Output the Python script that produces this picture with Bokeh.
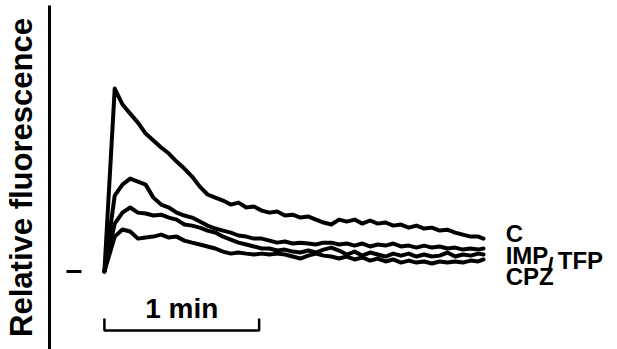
from bokeh.plotting import figure
from bokeh.models import FixedTicker, Range1d
from bokeh.core.properties import value
from bokeh.embed import file_html
from bokeh.resources import INLINE

# time (s) after stimulus
t = [0, 4, 7, 10, 13, 16, 19, 22, 25, 28, 31, 34, 37, 40, 43, 46, 49, 52, 55, 58,
     61, 64, 67, 70, 73, 76, 79, 82, 85, 88, 91, 94, 97, 100, 103, 106, 109, 112, 115, 118,
     121, 124, 127, 130, 133, 136, 139, 142, 145, 147]

# relative fluorescence (arbitrary units, C peak = 100)
c_vals = [0, 100, 91.3, 86.3, 81.4, 75.4, 71.6, 67.8, 64.5, 60.1, 56.3, 51.9, 46.4, 42.1, 40.4,
          38.8, 36.6, 37.7, 35.0, 35.5, 33.3, 32.2, 32.8, 30.6, 31.1, 29.5, 30.1, 28.4, 26.8, 25.7,
          28.4, 27.3, 28.4, 26.2, 27.9, 26.2, 26.8, 25.1, 25.7, 24.0, 25.1, 23.5, 24.0, 22.4, 22.9,
          21.3, 20.2, 19.1, 19.1, 18.0]
imp_vals = [0, 41.5, 47.5, 50.8, 49.2, 47.5, 40.4, 36.6, 35.0, 32.2, 30.6, 29.5, 27.3, 25.1, 23.5,
            22.4, 21.3, 19.7, 19.1, 18.0, 18.0, 16.9, 15.8, 16.4, 15.3, 15.8, 15.3, 14.8, 15.8, 15.8,
            14.8, 15.3, 14.2, 15.3, 13.7, 14.8, 14.2, 15.3, 13.7, 14.2, 13.1, 14.2, 13.1, 13.7, 12.6,
            13.1, 12.0, 12.6, 12.0, 12.6]
tfp_vals = [0, 26.2, 32.2, 35.0, 32.2, 31.7, 30.6, 31.1, 29.5, 28.4, 25.7, 25.1, 24.0, 22.4, 21.3,
            19.1, 17.5, 15.8, 14.8, 13.7, 12.6, 12.6, 11.5, 12.0, 10.9, 10.4, 11.5, 10.4, 12.0, 13.1,
            11.5, 9.3, 10.9, 8.7, 10.4, 9.3, 8.2, 9.8, 8.7, 9.8, 8.2, 9.3, 8.2, 8.7, 10.4,
            8.2, 9.3, 8.7, 9.8, 9.3]
cpz_vals = [0, 19.1, 23.0, 21.9, 18.0, 18.6, 19.1, 20.2, 18.6, 19.1, 16.9, 15.8, 14.8, 13.7, 12.6,
            10.9, 9.8, 10.4, 9.8, 9.3, 9.8, 9.3, 9.8, 9.3, 8.2, 7.1, 8.7, 9.8, 8.7, 8.2,
            7.1, 8.2, 6.6, 7.7, 6.0, 7.1, 5.5, 6.6, 4.9, 6.0, 4.9, 5.5, 4.4, 5.5, 4.9,
            5.5, 4.9, 6.0, 5.5, 6.6]

series = [c_vals, imp_vals, tfp_vals, cpz_vals]

# labels at the right end of the traces: (text, t, value)
label_text = ["C", "IMP", "/", "TFP", "CPZ"]
label_t = [155.6, 155.6, 171.5, 175.8, 155.6]
label_v = [20.8, 8.7, 2.8, 6.0, -2.5]

# baseline marker and time scale bar
baseline_t = [-14.7, -8.9]
baseline_v = [0, 0]
scale_seconds = 60
scale_label = "1 min"

p = figure(width=617, height=349, output_backend="svg", toolbar_location=None,
           x_range=Range1d(-21.29, 198.97), y_range=Range1d(-42.6, 145.4),
           min_border_left=48, min_border_right=0, min_border_top=5, min_border_bottom=0)
p.outline_line_color = None
p.xaxis.visible = False
p.xgrid.visible = False
p.ygrid.visible = False
p.yaxis.ticker = FixedTicker(ticks=[])
p.yaxis.major_tick_line_color = None
p.yaxis.minor_tick_line_color = None
p.yaxis.major_tick_out = 0
p.yaxis.major_tick_in = 0
p.yaxis.major_label_text_font_size = "0px"
p.yaxis.axis_line_width = 3
p.yaxis.axis_line_color = "black"
p.yaxis.axis_label = "Relative fluorescence"
p.yaxis.axis_label_text_font = "Liberation Sans"
p.yaxis.axis_label_text_font_style = "bold"
p.yaxis.axis_label_text_font_size = "31px"
p.yaxis.axis_label_text_color = "black"
p.yaxis.axis_label_standoff = 11

for vals in series:
    p.line(t, vals, line_color="black", line_width=4, line_join="round", line_cap="round")

p.line(baseline_t, baseline_v, line_color="black", line_width=3)

sb_x = [0, 0, scale_seconds, scale_seconds]
sb_y = [-25.7, -32.2, -32.2, -25.7]
p.line(sb_x, sb_y, line_color="black", line_width=2.5)
p.text(x=[scale_seconds / 2], y=[-20.2], text=[scale_label], text_align="center",
       text_baseline="alphabetic", text_font=value("Liberation Sans"),
       text_font_style="bold", text_font_size="28px", text_color="black")

p.text(x=label_t, y=label_v, text=label_text, text_align="left",
       text_baseline="alphabetic", text_font=value("Liberation Sans"),
       text_font_style="bold", text_font_size="24px", text_color="black")

open("out.html", "w").write(file_html(p, INLINE))
